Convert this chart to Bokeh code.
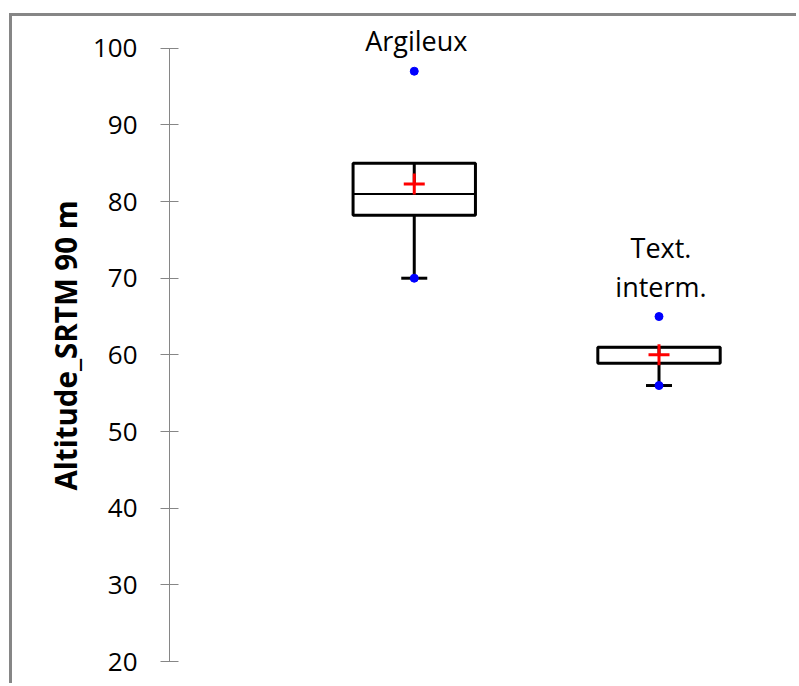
from bokeh.plotting import figure
from bokeh.models import Range1d, FixedTicker, ColumnDataSource, LabelSet
from bokeh.core.properties import value
from bokeh.embed import file_html
from bokeh.resources import INLINE

# ---- data ----
categories = ["Argileux", "Text.\ninterm."]
positions = [1, 2]
q1 = [78.2, 58.9]
median = [81.0, 61.0]
q3 = [85.0, 61.0]
mean = [82.3, 60.0]
minimum = [70.0, 56.0]
maximum = [97.0, 65.0]
y_ticks = [20, 30, 40, 50, 60, 70, 80, 90, 100]
y_label = "Altitude_SRTM 90 m"

BOX_W = 0.5
half = BOX_W / 2
LABEL_GAP = 12      # px between max point and label block
LINE_STEP = 39      # px between label lines

src = ColumnDataSource(dict(
    x=positions, q1=q1, med=median, q3=q3, mean=mean, lo=minimum, hi=maximum,
    x0=[v - half for v in positions], x1=[v + half for v in positions],
))

# one label entry per text line, so that every line is centred on its box
lx, ly, lt, lo = [], [], [], []
for pos, top, cat in zip(positions, maximum, categories):
    lines = cat.split("\n")
    n = len(lines)
    for j, line in enumerate(lines):
        lx.append(pos)
        ly.append(top)
        lt.append(line)
        lo.append(LABEL_GAP + (n - 1 - j) * LINE_STEP)
lab_src = ColumnDataSource(dict(x=lx, y=ly, text=lt, off=lo))

p = figure(width=787, height=670, output_backend="svg", toolbar_location=None,
           title=y_label, title_location="left",
           x_range=Range1d(0, 2.574), y_range=Range1d(20, 104.14),
           min_border_left=157, min_border_right=0,
           min_border_top=0, min_border_bottom=25)
p.margin = (13, 0, 0, 9)
p.styles = {"border-top": "3px solid #868686", "border-left": "3px solid #868686"}

p.title.align = "left"
p.title.offset = 171
p.title.text_font = "Open Sans"
p.title.text_font_size = "29.5px"
p.title.text_font_style = "bold"
p.title.text_color = "black"
p.title.standoff = 8

p.outline_line_color = None
p.xgrid.visible = False
p.ygrid.visible = False
p.xaxis.visible = False
p.background_fill_color = "white"
p.border_fill_color = "white"

ax = p.yaxis[0]
ax.bounds = (20, 100)
ax.ticker = FixedTicker(ticks=y_ticks)
ax.axis_line_color = "#868686"
ax.axis_line_width = 1
ax.major_tick_line_color = "#868686"
ax.major_tick_in = 9
ax.major_tick_out = 9
ax.minor_tick_line_color = None
ax.major_label_text_font = "Open Sans"
ax.major_label_text_font_size = "26px"
ax.major_label_text_color = "black"
ax.major_label_standoff = 23

# lower whisker
p.segment(x0="x", y0="q1", x1="x", y1="lo", source=src, line_color="black", line_width=3)
# box
p.vbar(x="x", width=BOX_W, bottom="q1", top="q3", source=src,
       fill_color="white", line_color="black", line_width=3)
# median
p.segment(x0="x0", y0="med", x1="x1", y1="med", source=src, line_color="black", line_width=2)
# inner upper segment
p.segment(x0="x", y0="q3", x1="x", y1="mean", source=src, line_color="black", line_width=3)
# cap
p.scatter(x="x", y="lo", source=src, marker="dash", size=26, line_color="black", line_width=3)
# min / max points
p.scatter(x="x", y="lo", source=src, marker="circle", size=8, fill_color="#0000FF", line_color="#0000FF")
p.scatter(x="x", y="hi", source=src, marker="circle", size=8, fill_color="#0000FF", line_color="#0000FF")
# mean
p.scatter(x="x", y="mean", source=src, marker="cross", size=21, line_color="#FF0000", line_width=3)
# category labels
labels = LabelSet(x="x", y="y", text="text", source=lab_src, y_offset="off", x_offset=2,
                  text_align="center", text_baseline="bottom",
                  text_font=value("Open Sans"), text_font_size=value("27px"),
                  text_color=value("black"))
p.add_layout(labels)

open("out.html", "w").write(file_html(p, INLINE))
